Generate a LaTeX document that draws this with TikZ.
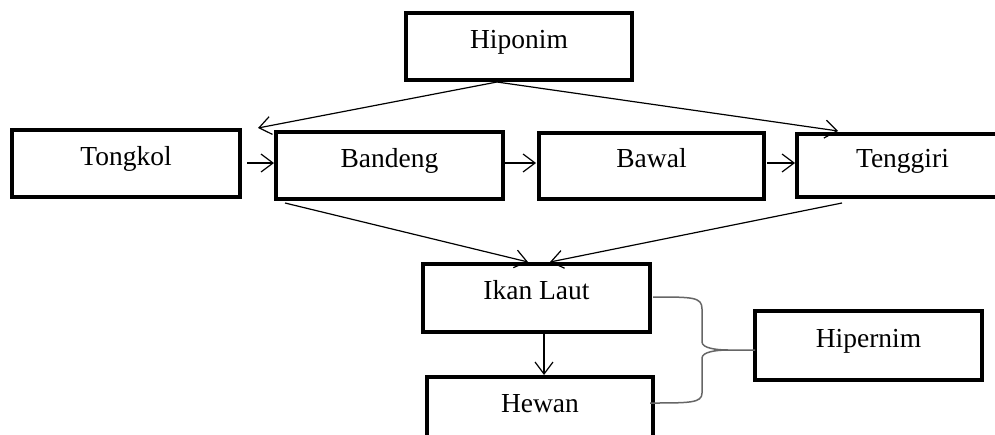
\documentclass[tikz,border=0pt]{standalone}
\usepackage{fontspec}
\setmainfont{Liberation Serif}
\usetikzlibrary{arrows.meta,calc}
\begin{document}
\begin{tikzpicture}[x=1pt,y=-1pt,
  box/.style={draw=black, line width=4.6pt, rectangle, inner sep=0pt, outer sep=0pt,
    minimum height=67pt, text height=18pt, text depth=15pt,
    font=\fontsize{27.5pt}{30pt}\selectfont},
  conn/.style={draw=black, line width=1.2pt,
    -{Straight Barb[length=12pt,width=18pt,line width=1.2pt]}},
  bracestyle/.style={draw=black!60, line width=1.5pt}]
\useasboundingbox (0,0) rectangle (995,434);
\node[box, minimum width=226pt, minimum height=67pt] (hipo) at (519,46.5) {Hiponim};
\node[box, minimum width=228pt, minimum height=67pt] (tong) at (126,163.5) {Tongkol};
\node[box, minimum width=227pt, minimum height=67pt] (band) at (389.5,165.5) {Bandeng};
\node[box, minimum width=225pt, minimum height=66pt] (bawal) at (651.5,166) {Bawal};
\node[box, minimum width=211pt, minimum height=63pt] (teng) at (902.5,165.5) {Tenggiri};
\node[box, minimum width=227pt, minimum height=68pt] (ikan) at (536.5,298) {Ikan Laut};
\node[box, minimum width=226pt, minimum height=68pt] (hewan) at (540,411) {Hewan};
\node[box, minimum width=227pt, minimum height=69pt] (hiper) at (868.5,345.5) {Hipernim};
% hiponim arrows
\draw[conn] ($(hipo.south)+(-22,2)$) -- ($(band.north west)+(-18,-4)$);
\draw[conn] ($(hipo.south)+(-22,2)$) -- ($(teng.north west)+(41,-3)$);
% horizontal chain
\draw[conn] ($(tong.east)+(7,-0.5)$) -- ($(band.west)+(-2,-2.5)$);
\draw[conn] ($(band.east)+(2,-2.5)$) -- ($(bawal.west)+(-3,-3)$);
\draw[conn] ($(bawal.east)+(3,-3)$) -- ($(teng.west)+(-2,-2.5)$);
% to ikan laut
\draw[conn] ($(band.south west)+(9,4)$) -- ($(ikan.north)+(-8.5,-2)$);
\draw[conn] ($(teng.south west)+(45,6)$) -- ($(ikan.north)+(13.5,-2)$);
\draw[conn] ($(ikan.south)+(7.5,2)$) -- ($(hewan.north)+(4,-2)$);
% brace
\coordinate (bt) at ($(hiper.west)+(-27,4.5)$);
\draw[bracestyle] ($(ikan.east)+(3,-1)$) .. controls +(40,0) and +(0,-12) .. ++(49,12)
  -- ++(0,33) .. controls +(0,6) and +(-12,0) .. (bt) -- (bt -| hiper.west);
\draw[bracestyle] (bt) .. controls +(-12,0) and +(0,-6) .. ++(-26,8)
  -- ++(0,35) .. controls +(0,10) and +(40,0) .. ($(hewan.east)+(-3,-8)$);
\end{tikzpicture}
\end{document}
